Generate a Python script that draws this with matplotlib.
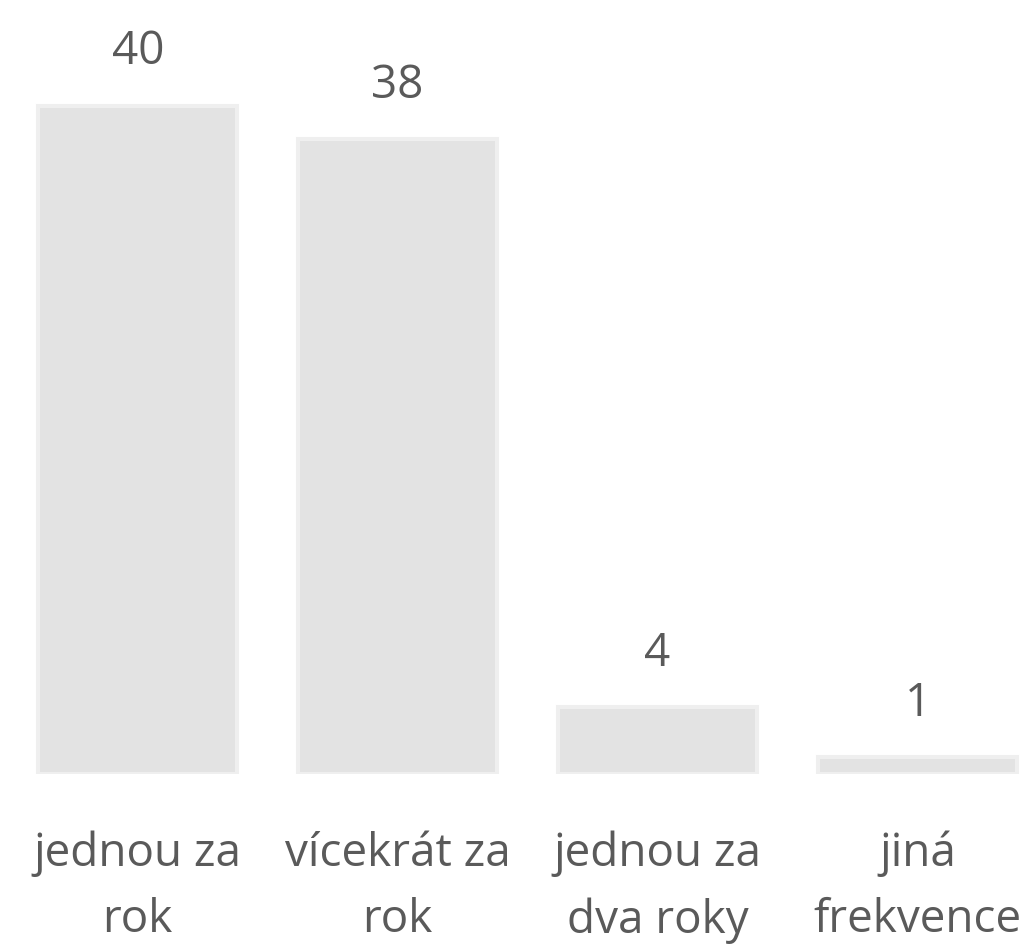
import matplotlib
matplotlib.use("Agg")
import matplotlib.pyplot as plt

categories = ["jednou za\nrok", "vícekrát za\nrok", "jednou za\ndva roky", "jiná\nfrekvence"]
values = [40, 38, 4, 1]

W, H = 1035, 944
fig = plt.figure(figsize=(W / 100, H / 100), dpi=100)
bottom_px = 774
ax = fig.add_axes([0, (H - bottom_px) / H, 1, bottom_px / H])

x = list(range(len(categories)))
ax.bar(x, values, width=0.765, color="#e3e3e3", edgecolor="#efefef", linewidth=2.9)

ax.set_xlim(-0.530, 3.452)
ax.set_ylim(0, bottom_px / 16.7)
ax.axis("off")

font = ["Open Sans", "DejaVu Sans"]
for xi, v in zip(x, values):
    ax.annotate(str(v), (xi, v), xytext=(0, 22), textcoords="offset points",
                ha="center", va="bottom", fontsize=33, color="#5a5a5a", family=font)

for xi, lab in zip(x, categories):
    ax.annotate(lab, (xi, 0), xytext=(0, -41), textcoords="offset points",
                ha="center", va="top", fontsize=33, color="#5a5a5a", family=font,
                linespacing=1.56, annotation_clip=False)

fig.savefig("out.png", dpi=100)
